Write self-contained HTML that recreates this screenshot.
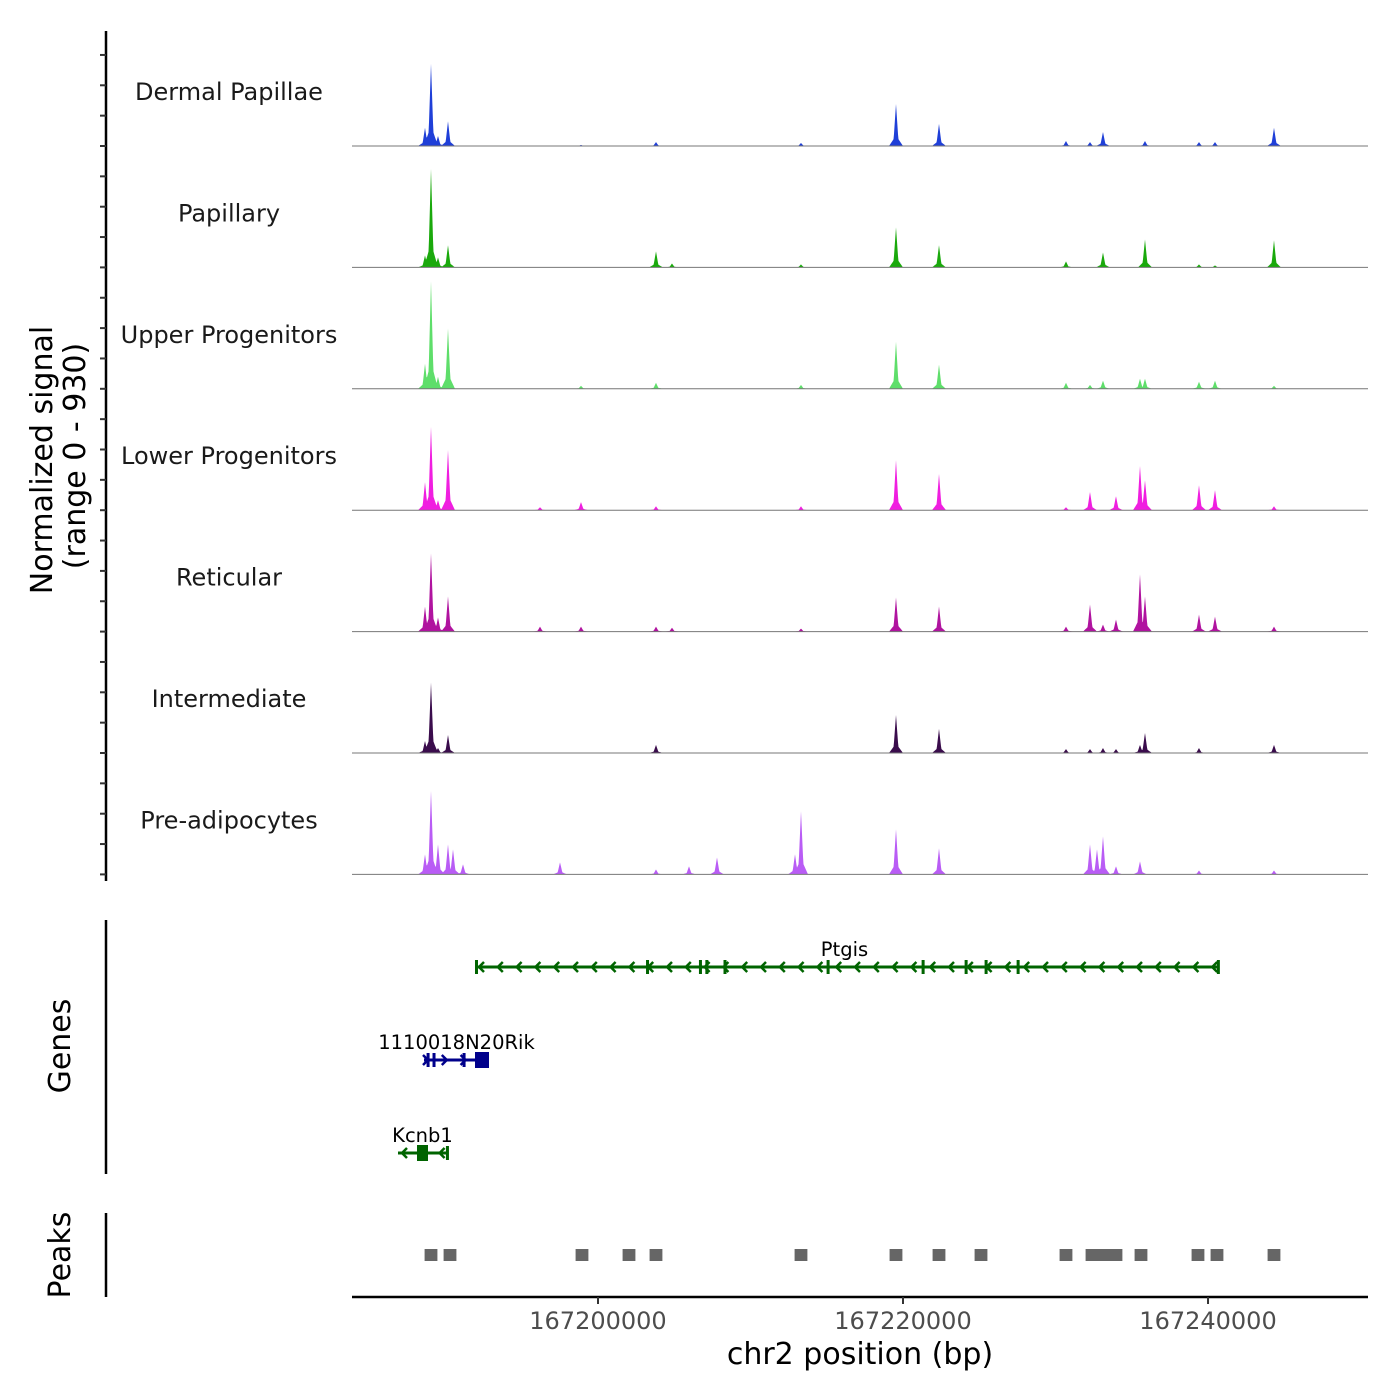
<!DOCTYPE html>
<html><head><meta charset="utf-8"><style>
html,body{margin:0;padding:0;background:#fff}
svg{display:block;font-family:"DejaVu Sans","Liberation Sans",sans-serif}
</style></head><body>
<svg id="chart" width="1400" height="1400" viewBox="0 0 1400 1400" xmlns="http://www.w3.org/2000/svg">
<rect width="1400" height="1400" fill="#fff"/>
<g id="tracks"></g>
<g id="genes"></g>
<g id="peaks"></g>
<g id="axes"></g>
</svg>
<script>
const trackNames = ["Dermal Papillae","Papillary","Upper Progenitors","Lower Progenitors","Reticular","Intermediate","Pre-adipocytes"];
const trackColors = ["#1f3fd8","#1aa90c","#5ede6a","#f01ee0","#b0139f","#3a0c4c","#b95cf5"];
const peakPositions = [167188657,167189050,167189509,167190165,167190493,167191148,167196197,167197509,167198886,167203803,167204852,167205967,167207803,167212918,167213311,167219540,167222360,167230687,167232261,167232720,167233113,167233965,167235539,167235867,167239408,167240457,167244326];
const dermalHeights = [140,630,77,190,0,0,0,0,8,30,0,0,0,0,23,323,170,38,30,0,108,0,0,38,30,30,140];
const papillaryHeights = [92,755,77,170,0,0,0,0,0,123,30,0,0,0,23,308,170,46,0,0,115,0,0,215,23,15,208];
const upperHeights = [192,825,92,462,0,0,0,0,23,46,0,0,0,0,30,362,185,46,30,0,62,0,77,77,54,62,23];
const lowerHeights = [215,640,77,462,0,0,23,0,62,30,0,0,0,0,30,385,277,23,140,0,0,108,340,230,192,154,30];
const reticularHeights = [192,600,108,270,0,0,38,0,38,38,30,0,0,0,23,262,192,38,208,0,54,92,440,270,130,115,38];
const intermediateHeights = [92,540,38,138,0,0,0,0,0,62,0,0,0,0,0,292,185,30,30,0,38,30,62,154,38,0,62];
const preadipHeights = [154,640,230,230,192,77,0,92,0,38,0,62,130,154,485,346,200,0,230,192,292,62,100,0,30,0,30];
const trackHeights = [dermalHeights,papillaryHeights,upperHeights,lowerHeights,reticularHeights,intermediateHeights,preadipHeights];
const xTicks = [167200000,167220000,167240000];
const xTickLabels = ["167200000","167220000","167240000"];
const genes = [
 {name:"Ptgis",start:167191935,end:167240654,strand:-1,row:0,color:"#006400",
  exons:[[167191935,167192000],[167203150,167203280],[167206620,167206760],[167207040,167207120],[167208230,167208290],[167214990,167215040],[167221220,167221270],[167224040,167224090],[167225350,167225400],[167227450,167227500],[167240580,167240654]]},
 {name:"1110018N20Rik",start:167188591,end:167192853,strand:1,row:1,color:"#00008b",
  exons:[[167188760,167188820],[167189150,167189300],[167191120,167191170],[167191935,167192853]]},
 {name:"Kcnb1",start:167186886,end:167190099,strand:-1,row:2,color:"#006400",
  exons:[[167188132,167188853],[167190030,167190099]]}
];
const peakRegions = [167189050,167190296,167198951,167202033,167203803,167213311,167219540,167222360,167225114,167230687,167232392,167233179,167233965,167235605,167239342,167240588,167244326];

const NS="http://www.w3.org/2000/svg";
const X0=352,X1=1368,BP0=167183870,BP1=167250490;
function xs(bp){return X0+(bp-BP0)/(BP1-BP0)*(X1-X0);}
const TRACK_H=121.4, FIRST_BASE=146, YMAX=930;
function mk(tag,attrs,parent){const e=document.createElementNS(NS,tag);for(const k in attrs)e.setAttribute(k,attrs[k]);parent.appendChild(e);return e;}

const tracksG=document.getElementById('tracks');
trackNames.forEach((nm,t)=>{
  const base=FIRST_BASE+t*TRACK_H;
  const ys=v=>base-v/YMAX*TRACK_H;
  const g=mk('g',{},tracksG);
  
  
  const hs=trackHeights[t];
  let d='M'+X0+' '+base;
  for(let x=X0;x<=X1;x+=0.5){
    let v=0;
    for(let i=0;i<peakPositions.length;i++){
      if(!hs[i])continue;
      const px=xs(peakPositions[i]);const dx=Math.abs(x-px);
      const a=hs[i]*Math.max(0,1-dx/2.8);
      const b=hs[i]*0.25*Math.max(0,1-dx/7);
      v=Math.max(v,a,b);
    }
    d+=' L'+x+' '+ys(v).toFixed(2);
  }
  d+=' L'+X1+' '+base+' Z';
  const p=mk('path',{d:d,fill:trackColors[t]},g);
  
  
  const ln=mk('line',{x1:X0,x2:X1,y1:base,y2:base,stroke:'#777','stroke-width':1},g);
  
  
  const lb=mk('text',{x:229,y:base-46,'text-anchor':'middle','font-size':24,fill:'#1a1a1a'},g);
  lb.textContent=nm;
  
  
});

const genesG=document.getElementById('genes');
const rowY=[967,1060,1153];
genes.forEach(gn=>{
  const y=rowY[gn.row];
  const g=mk('g',{},genesG);
  
  
  const xa=xs(gn.start),xb=xs(gn.end);
  mk('line',{x1:xa,x2:xb,y1:y,y2:y,stroke:gn.color,'stroke-width':3},g);
  for(let x=xa+4;x<xb-4;x+=18.8){
    const s=gn.strand;
    mk('polyline',{points:(x-5*s)+','+(y-5)+' '+x+','+y+' '+(x-5*s)+','+(y+5),fill:'none',stroke:gn.color,'stroke-width':2.5},g);
  }
  gn.exons.forEach(e=>{
    const a=xs(e[0]),b=xs(e[1]);const w=Math.max(3,b-a);
    const big=(b-a)>5;
    const r=mk('rect',{x:a,y:y-(big?8:7),width:w,height:big?16:14,fill:gn.color},g);
    
    
  });
  const t=mk('text',{x:(xa+xb)/2+(gn.row==0?-2:0),y:y-11,'text-anchor':'middle','font-size':19.5,fill:'#000'},g);
  t.textContent=gn.name;
  
  
});

const peaksG=document.getElementById('peaks');
peakRegions.forEach(c=>{
  const r=mk('rect',{x:xs(c-420),y:1249,width:xs(c+420)-xs(c-420),height:12,fill:'#666'},peaksG);
  
  
});

const ax=document.getElementById('axes');
const yl=mk('line',{x1:106,x2:106,y1:31,y2:881,stroke:'#000','stroke-width':2.5},ax);


for(let t=0;t<7;t++){const base=FIRST_BASE+t*TRACK_H;for(let k=0;k<4;k++){const y=base-k*30.35;const tk=mk('line',{x1:100,x2:106,y1:y,y2:y,stroke:'#333','stroke-width':2},ax);}}
const yt=mk('text',{transform:'translate(52,460) rotate(-90)','text-anchor':'middle','font-size':30,fill:'#000'},ax);
yt.textContent='Normalized signal';


const yt2=mk('text',{transform:'translate(85,456) rotate(-90)','text-anchor':'middle','font-size':30,fill:'#000'},ax);
yt2.textContent='(range 0 - 930)';


const gl=mk('line',{x1:106,x2:106,y1:920,y2:1174,stroke:'#000','stroke-width':2.5},ax);


const gt=mk('text',{transform:'translate(70,1046) rotate(-90)','text-anchor':'middle','font-size':30,fill:'#000'},ax);
gt.textContent='Genes';


const pl=mk('line',{x1:106,x2:106,y1:1213,y2:1297,stroke:'#000','stroke-width':2.5},ax);


const pt=mk('text',{transform:'translate(70,1255) rotate(-90)','text-anchor':'middle','font-size':30,fill:'#000'},ax);
pt.textContent='Peaks';


const xl=mk('line',{x1:X0,x2:X1,y1:1297,y2:1297,stroke:'#000','stroke-width':2.5},ax);


xTicks.forEach((v,i)=>{
  const x=xs(v);
  const tk=mk('line',{x1:x,x2:x,y1:1297,y2:1304,stroke:'#333','stroke-width':2},ax);
  
  
  const t=mk('text',{x:x,y:1329,'text-anchor':'middle','font-size':24,fill:'#4d4d4d'},ax);
  t.textContent=xTickLabels[i];
  
  
});
const xt=mk('text',{x:860,y:1364,'text-anchor':'middle','font-size':30,fill:'#000'},ax);
xt.textContent='chr2 position (bp)';


</script>
</body></html>
